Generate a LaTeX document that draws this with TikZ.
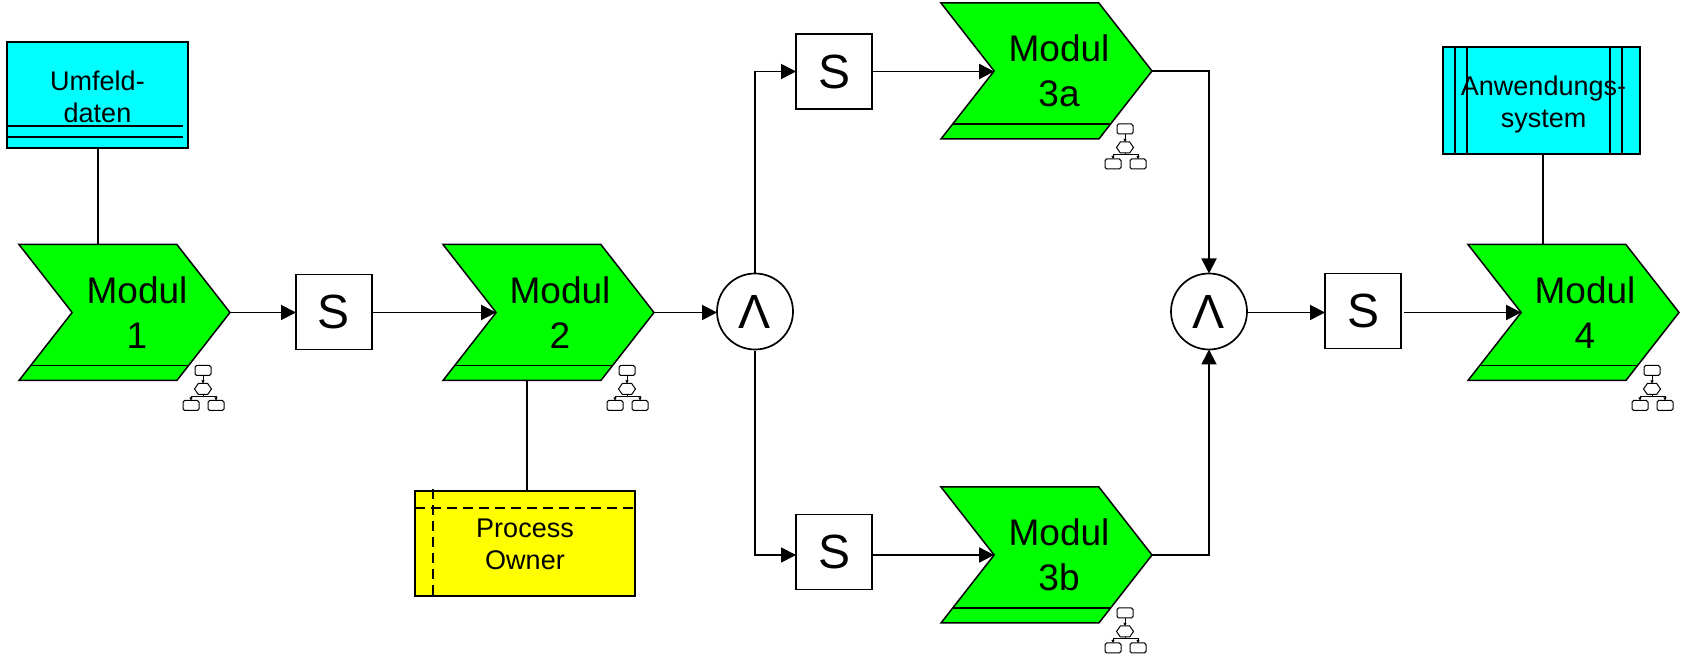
\documentclass[tikz,border=0pt]{standalone}
\usepackage{fontspec}
\setmainfont{Liberation Sans}
\usepackage{xcolor}
\definecolor{cModul}{HTML}{00FF00}
\definecolor{cData}{HTML}{00FFFF}
\definecolor{cOrg}{HTML}{FFFF00}
\usetikzlibrary{positioning,arrows.meta,calc,shapes.symbols}
\tikzset{
  node-modul/.style={shape=signal,signal from=west,signal to=east,signal pointer angle=104,
    draw=black,line width=.75pt,fill=cModul,inner sep=0pt,outer sep=0pt,
    minimum width=105.5pt,minimum height=68pt,
    path picture={\draw[line width=.75pt] ($(path picture bounding box.south west)+(0,7.5pt)$)
      -- ($(path picture bounding box.south east)+(0,7.5pt)$);}},
  node-modul-text/.style={align=center,font=\fontsize{18.5pt}{22.5pt}\selectfont,inner sep=0pt},
  node-box/.style={draw=black,line width=.9pt,inner sep=0pt,outer sep=0pt},
  node-box-text/.style={align=center,font=\fontsize{13.5pt}{16pt}\selectfont,inner sep=0pt},
  node-event/.style={draw=black,line width=.85pt,fill=white,inner sep=0pt,outer sep=0pt,
    minimum width=38pt,minimum height=37.5pt,font=\fontsize{24pt}{24pt}\selectfont},
  node-and/.style={draw=black,line width=.85pt,fill=white,circle,inner sep=0pt,outer sep=0pt,
    minimum size=38pt,font=\fontsize{24pt}{24pt}\selectfont},
  node-sub/.style={draw=black,line width=.5pt,fill=white,rounded corners=.8pt,inner sep=0pt,
    outer sep=0pt,minimum width=8pt,minimum height=5pt},
  node-hex/.style={shape=signal,signal to=east and west,signal pointer angle=110,draw=black,
    line width=.5pt,fill=white,inner sep=0pt,outer sep=0pt,minimum width=8.5pt,minimum height=5.5pt},
  arrow/.style={-{Triangle[length=7.5pt,width=7.5pt]},line width=.9pt},
  arrow-sub/.style={-{Triangle[length=1.5pt,width=1.5pt]},line width=.5pt},
  link/.style={line width=.9pt},
  line-dash/.style={line width=.9pt,dash pattern=on 5pt off 3pt},
  pics/subproc/.style={code={
    \node[node-sub] (-top) at (0,-18) {};
    \node[node-hex] (-hex) at (0,.5) {};
    \node[node-sub] (-left) at (-12,17) {};
    \node[node-sub] (-right) at (13,17) {};
    \coordinate (-bus) at (0,8);
    \draw[arrow-sub] (-top) -- (-hex);
    \draw[line width=.5pt] (-hex) -- (-bus);
    \draw[arrow-sub] (-bus) -| (-left);
    \draw[arrow-sub] (-bus) -| (-right);
  }},
}
\begin{document}
\begin{tikzpicture}[x=.5pt,y=-.5pt]
  \useasboundingbox (0,0) rectangle (1681,656);
  % Module mit Text und Symbol
  \foreach \name/\x/\y/\tx/\txt in {m1/124.5/312.5/137/1, m2/548.5/312.5/560/2, m3a/1046.5/71/1059/3a,
      m3b/1046.5/555/1059/3b, m4/1573.5/312.5/1585/4} {
    \node[node-modul] (\name) at (\x,\y) {};
    \node[node-modul-text] (\name-text) at (\tx,\y) {Modul\\\txt};
    \pic (\name-icon) at (\x+78.5,\y+76) {subproc};
  }
  % Ereignisse
  \node[node-event] (s1) at (334,312) {S};
  \node[node-event] (s2) at (834,71.5) {S};
  \node[node-event] (s3) at (834,552) {S};
  \node[node-event] (s4) at (1363,311) {S};
  % Verknuepfungen
  \node[node-and] (and1) at (755,311.5) {Λ};
  \node[node-and] (and2) at (1209,311.5) {Λ};
  % Daten, Rolle, System
  \node[node-box,fill=cData,minimum width=90.5pt,minimum height=53pt] (env) at (97.5,95) {};
  \node[node-box-text] (env-text) at (97.5,97) {Umfeld-\\daten};
  \draw[link] (7,126) -- (183,126);
  \draw[link] (7,137) -- (183,137);
  \node[node-box,fill=cOrg,minimum width=110pt,minimum height=52.5pt] (owner) at (525,543.5) {};
  \node[node-box-text] (owner-text) at (525,544.5) {Process\\Owner};
  \draw[line-dash] (415,508) -- (635,508);
  \draw[line-dash] (433,489) -- (433,596);
  \node[node-box,fill=cData,minimum width=98.5pt,minimum height=53.5pt] (app) at (1541.5,100.5) {};
  \foreach \x in {1455,1467,1610,1622}
    \draw[link] (\x,47) -- (\x,154);
  \node[node-box-text] (app-text) at (1543.5,105) {Anwendungs-\\system};
  % Verbindungen
  \coordinate (env-foot) at (98,244.5);
  \coordinate (owner-top) at (527,380.5);
  \coordinate (app-foot) at (1543,244.5);
  \draw[link] (env.south -| env-foot) -- (env-foot);
  \draw[link] (owner-top) -- (owner.north -| owner-top);
  \draw[link] (app.south -| app-foot) -- (app-foot);
  \draw[arrow] (m1.east) -- (s1.west |- m1.east);
  \draw[arrow] (s1.east |- m2.west) -- (m2.west);
  \draw[arrow] (m2.east) -- (and1.west |- m2.east);
  \draw[arrow] (and1.north) |- (s2.west);
  \draw[arrow,shorten <=1pt] (and1.south) |- (s3.west |- m3b.west);
  \draw[arrow] (s2.east) -- (m3a.west |- s2.east);
  \draw[arrow] (s3.east |- m3b.west) -- (m3b.west);
  \draw[arrow] (m3a.east) -| (and2.north);
  \draw[arrow] (m3b.east) -| (and2.south);
  \draw[arrow] (and2.east |- m4.west) -- (s4.west |- m4.west);
  \draw[arrow,shorten <=1.5pt] (s4.east |- m4.west) -- (m4.west);
\end{tikzpicture}
\end{document}
